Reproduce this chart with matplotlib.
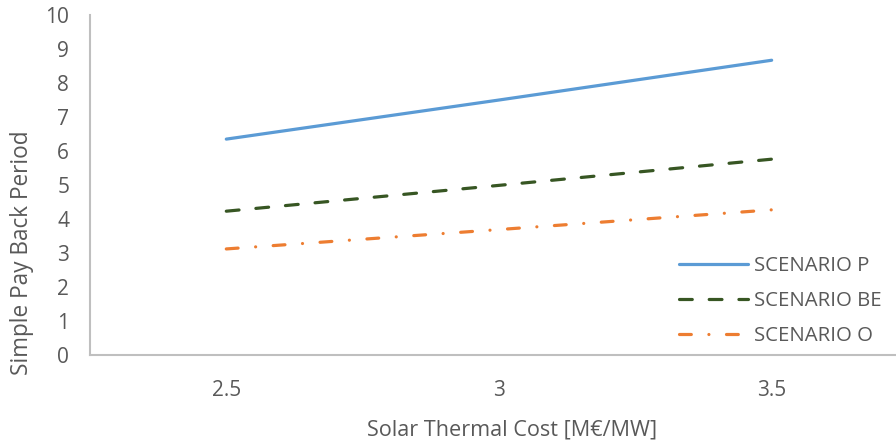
import matplotlib
matplotlib.use("Agg")
import matplotlib.pyplot as plt

# Solar thermal cost categories and payback per scenario
costs = ["2.5", "3", "3.5"]
scenario_p = [6.35, 7.5, 8.67]
scenario_be = [4.23, 4.99, 5.76]
scenario_o = [3.12, 3.69, 4.27]

TEXT = "#595959"
AXIS = "#BFBFBF"

plt.rcParams["font.family"] = ["Open Sans", "DejaVu Sans"]

fig = plt.figure(figsize=(8.96, 4.43), dpi=100)
ax = fig.add_axes([0.1004, 0.1986, 0.913, 0.7675])

x = range(len(costs))
ax.plot(x, scenario_p, color="#5B9BD5", lw=2.3, solid_capstyle="round", label="SCENARIO P")
ax.plot(x, scenario_be, color="#375623", lw=2.3, dash_capstyle="round",
        dashes=(4, 5.3), label="SCENARIO BE")
ax.plot(x, scenario_o, color="#ED7D31", lw=2.3, dash_capstyle="round",
        dashes=(3.7, 5.5, 0.01, 5.5), label="SCENARIO O")

ax.set_xlim(-0.5, 2.5)
ax.set_ylim(0, 10)
ax.set_yticks(range(0, 11))
ax.set_xticks(list(x))
ax.set_xticklabels(costs)

for side in ["top", "right"]:
    ax.spines[side].set_visible(False)
for side in ["left", "bottom"]:
    ax.spines[side].set_color(AXIS)
    ax.spines[side].set_linewidth(1.5)

ax.tick_params(axis="both", length=0, labelsize=15, colors=TEXT)
ax.tick_params(axis="y", pad=15)
ax.tick_params(axis="x", pad=18)

fig.text(0.024, 0.43, "Simple Pay Back Period", rotation=90, ha="center", va="center",
         fontsize=16.3, color=TEXT)
fig.text(0.571, 0.03, "Solar Thermal Cost [M€/MW]", ha="center", va="center",
         fontsize=15.6, color=TEXT)

leg = ax.legend(loc="upper left", bbox_to_anchor=(0.758, 0.421), bbox_transform=fig.transFigure,
                frameon=False, fontsize=14.7, handlelength=3.35, handletextpad=0.3,
                labelspacing=0.72, borderaxespad=0, borderpad=0)
for t in leg.get_texts():
    t.set_color(TEXT)

fig.savefig("out.png", dpi=100)
